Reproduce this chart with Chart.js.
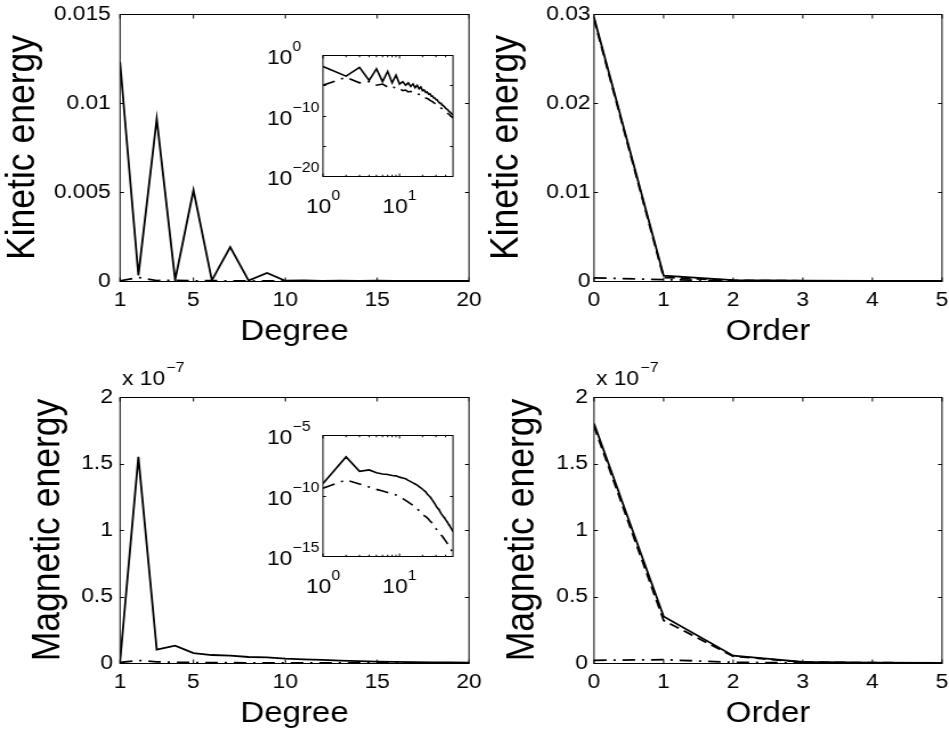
<!DOCTYPE html>
<html><head><meta charset="utf-8">
<script src="https://cdn.jsdelivr.net/npm/chart.js@4.4.0/dist/chart.umd.min.js"></script>
<style>
html,body{margin:0;padding:0;background:#fff;width:949px;height:741px;overflow:hidden;position:relative}
canvas{position:absolute}
</style></head><body>
<canvas id="tr"></canvas><canvas id="br"></canvas><canvas id="tl"></canvas><canvas id="bl"></canvas>
<canvas id="ti"></canvas><canvas id="bi"></canvas>
<script>
// ---------------- data ----------------
const degrees = [1,2,3,4,5,6,7,8,9,10,11,12,13,14,15,16,17,18,19,20,21,22,23,24,25,26,27,28,29,30,31,32,33,34,35,36,37,38,39,40,41,42,43,44,45,46,47,48,49,50];
const orders = [0,1,2,3,4,5];

const kinDegSolid = [1.23e-2,3.2e-4,9.1e-3,6.3e-5,5.1e-3,4.0e-5,1.9e-3,2.5e-5,4.5e-4,1.6e-5,
  4.0e-5,1.0e-5,2.5e-5,6.3e-6,1.6e-5,4.0e-6,1.0e-5,2.5e-6,5.0e-6,1.3e-6,
  1.6e-6,6.3e-7,7.9e-7,3.2e-7,4.0e-7,1.6e-7,1.6e-7,7.9e-8,7.9e-8,4.0e-8,
  4.0e-8,2.0e-8,2.0e-8,1.0e-8,1.0e-8,5.0e-9,5.0e-9,3.2e-9,2.5e-9,1.6e-9,
  1.3e-9,1.0e-9,7.9e-10,5.0e-10,4.0e-10,3.2e-10,2.5e-10,2.0e-10,1.6e-10,1.3e-10];
const kinDegDashDot = [1.0e-5,2.0e-4,2.5e-5,4.0e-5,1.0e-5,1.6e-5,5.0e-6,7.9e-6,2.5e-6,3.2e-6,
  1.3e-6,1.6e-6,7.9e-7,1.0e-6,5.0e-7,5.0e-7,3.2e-7,3.2e-7,1.6e-7,1.6e-7,
  1.0e-7,7.9e-8,6.3e-8,5.0e-8,3.2e-8,2.5e-8,2.0e-8,1.3e-8,1.0e-8,7.9e-9,
  5.0e-9,4.0e-9,3.2e-9,2.5e-9,1.6e-9,1.3e-9,1.0e-9,7.9e-10,6.3e-10,5.0e-10,
  3.2e-10,2.5e-10,2.0e-10,1.6e-10,1.3e-10,1.0e-10,7.9e-11,6.3e-11,5.0e-11,4.0e-11];
const magDegSolid = [1.0e-9,1.55e-7,1.0e-8,1.3e-8,7.5e-9,6.0e-9,5.5e-9,4.5e-9,4.2e-9,3.3e-9,
  2.8e-9,2.4e-9,1.8e-9,1.4e-9,1.1e-9,8.9e-10,7.1e-10,5.4e-10,4.2e-10,3.3e-10,
  2.5e-10,2.0e-10,1.3e-10,1.0e-10,7.9e-11,5.6e-11,4.0e-11,2.8e-11,2.0e-11,1.4e-11,
  1.0e-11,7.9e-12,6.3e-12,4.5e-12,3.2e-12,2.5e-12,2.0e-12,1.6e-12,1.3e-12,1.0e-12,
  7.9e-13,6.3e-13,5.0e-13,4.0e-13,3.2e-13,2.5e-13,2.0e-13,1.6e-13,1.3e-13,1.0e-13];
const magDegDashDot = [4.0e-10,1.9e-9,8.9e-10,5.0e-10,3.2e-10,2.4e-10,1.8e-10,1.4e-10,1.1e-10,7.9e-11,
  5.6e-11,4.0e-11,2.8e-11,2.0e-11,1.6e-11,1.1e-11,7.9e-12,5.6e-12,4.0e-12,2.8e-12,
  2.2e-12,1.8e-12,1.4e-12,1.1e-12,7.9e-13,6.3e-13,5.0e-13,3.5e-13,2.5e-13,1.8e-13,
  1.4e-13,1.1e-13,8.9e-14,7.1e-14,5.6e-14,4.5e-14,3.5e-14,2.8e-14,2.2e-14,1.8e-14,
  1.4e-14,1.1e-14,8.9e-15,7.1e-15,5.6e-15,4.5e-15,3.5e-15,2.8e-15,2.2e-15,1.8e-15];

const kinOrdSolid   = [2.96e-2,6.0e-4,1.0e-4,3.0e-5,1.0e-5,5.0e-6];
const kinOrdDashed  = [2.94e-2,4.0e-4,6.0e-5,2.0e-5,8.0e-6,4.0e-6];
const kinOrdDashDot = [3.5e-4,1.5e-4,2.0e-5,5.0e-6,2.0e-6,1.0e-6];
const magOrdSolid   = [1.80e-7,3.5e-8,5.5e-9,8.0e-10,2.0e-10,1.0e-10];
const magOrdDashed  = [1.78e-7,3.2e-8,5.0e-9,7.0e-10,2.0e-10,1.0e-10];
const magOrdDashDot = [2.0e-9,2.5e-9,5.0e-10,1.0e-10,5.0e-11,2.0e-11];

// ticks
const degreeTicks = [1,5,10,15,20];
const degreeTickLabels = ['1','5','10','15','20'];
const orderTicks = [0,1,2,3,4,5];
const orderTickLabels = ['0','1','2','3','4','5'];
const kinDegYTicks = [0,0.005,0.01,0.015];
const kinDegYLabels = ['0','0.005','0.01','0.015'];
const kinOrdYTicks = [0,0.01,0.02,0.03];
const kinOrdYLabels = ['0','0.01','0.02','0.03'];
const magYTicks = [0,0.5e-7,1e-7,1.5e-7,2e-7];
const magYLabels = ['0','0.5','1','1.5','2'];
const insetXTicks = [1,10];
const insetXExp = ['0','1'];
const insetXMinor = [2,3,4,5,6,7,8,9,20,30,40];
const kinInsetYTicks = [1e-20,1e-15,1e-10,1e-5,1];
const kinInsetYLabelVals = [1e-20,1e-10,1];
const kinInsetYExp = ['\u221220','\u221210','0'];
const magInsetYTicks = [1e-15,1e-10,1e-5];
const magInsetYLabelVals = [1e-15,1e-10,1e-5];
const magInsetYExp = ['\u221215','\u221210','\u22125'];

// ---------------- drawing ----------------
const SX = 1.14;
const FONT = '"Liberation Sans", Arial, Helvetica, sans-serif';
const SOLID = [], DASHED = [9,5], DASHDOT = [11,6,2,6];

function ds(xs, ys, dash, w) {
  return { data: ys.map((v,i)=>({x:xs[i], y:v})), borderColor:'#000', borderWidth: w || 1.8,
    borderDash: dash, pointRadius:0, tension:0, fill:false };
}

function crisp(v){ return Math.round(v) + 0.5; }

function framePlugin(o) {
  return {
    id: 'frame',
    beforeDatasetsDraw(chart) {
      if (!o.white) return;
      const a = chart.chartArea, ctx = chart.ctx;
      ctx.save(); ctx.fillStyle = '#fff';
      ctx.fillRect(a.left, a.top, a.right - a.left, a.bottom - a.top); ctx.restore();
    },
    afterDraw(chart) {
      const ctx = chart.ctx, a = chart.chartArea, xs = chart.scales.x, ys = chart.scales.y;
      const top = crisp(a.top), bot = crisp(a.bottom);
      ctx.save();
      ctx.strokeStyle = '#000'; ctx.lineWidth = 1;
      ctx.beginPath();
      const tv = o.tick, th = o.tick / o.sx;
      for (const t of xs.ticks) {
        const p = xs.getPixelForValue(t.value);
        ctx.moveTo(p, bot); ctx.lineTo(p, bot - tv);
        ctx.moveTo(p, top); ctx.lineTo(p, top + tv);
      }
      (o.minorX || []).forEach(v => {
        const p = xs.getPixelForValue(v);
        ctx.moveTo(p, bot); ctx.lineTo(p, bot - tv*0.6);
        ctx.moveTo(p, top); ctx.lineTo(p, top + tv*0.6);
      });
      for (const t of ys.ticks) {
        const p = crisp(ys.getPixelForValue(t.value));
        ctx.moveTo(a.left, p); ctx.lineTo(a.left + th, p);
        ctx.moveTo(a.right, p); ctx.lineTo(a.right - th, p);
      }
      ctx.stroke();
      ctx.strokeRect(a.left, top, a.right - a.left, bot - top);
      ctx.restore();
      if (o.extra) o.extra(chart);
    }
  };
}

function expLabel(sx) {
  return chart => {
    const ctx = chart.ctx, a = chart.chartArea;
    ctx.save(); ctx.fillStyle = '#000'; ctx.textAlign = 'left'; ctx.textBaseline = 'alphabetic';
    ctx.font = '20px ' + FONT;
    const x0 = a.left + 2 / sx, base = a.top - 12;
    ctx.fillText('x 10', x0, base);
    const w = ctx.measureText('x 10').width;
    ctx.font = '14px ' + FONT;
    ctx.fillText('\u22127', x0 + w + 1, base - 13);
    ctx.restore();
  };
}

function logLabels(cfg) {
  return chart => {
    const ctx = chart.ctx, a = chart.chartArea, xs = chart.scales.x, ys = chart.scales.y;
    ctx.save(); ctx.fillStyle = '#000'; ctx.textAlign = 'left'; ctx.textBaseline = 'alphabetic';
    insetXTicks.forEach((v, i) => {
      const p = xs.getPixelForValue(v);
      ctx.font = '20px ' + FONT; const w1 = ctx.measureText('10').width;
      ctx.font = '14px ' + FONT; const w2 = ctx.measureText(insetXExp[i]).width;
      const x0 = p - (w1 + w2) / 2, base = a.bottom + 37;
      ctx.font = '20px ' + FONT; ctx.fillText('10', x0, base);
      ctx.font = '14px ' + FONT; ctx.fillText(insetXExp[i], x0 + w1, base - 13);
    });
    cfg.yVals.forEach((v, i) => {
      const p = ys.getPixelForValue(v);
      ctx.font = '20px ' + FONT; const w1 = ctx.measureText('10').width;
      ctx.fillText('10', cfg.yLeft, p + 9);
      ctx.font = '14px ' + FONT; ctx.fillText(cfg.yExp[i], cfg.yLeft + w1, p - 4);
    });
    ctx.restore();
  };
}

function panel(id, css, area, cfg) {
  const cv = document.getElementById(id);
  const W = Math.round(css.w / SX);
  const sx = css.w / W;
  cv.width = W; cv.height = css.h;
  cv.style.left = css.left + 'px'; cv.style.top = css.top + 'px';
  cv.style.width = css.w + 'px'; cv.style.height = css.h + 'px';
  const li = area.l / sx, ri = area.r / sx, xH = css.h - area.b;
  const tickFont = {family: FONT, size: 20};
  const xScale = {
    type: cfg.log ? 'logarithmic' : 'linear', min: cfg.xMin, max: cfg.xMax,
    border: {display: false}, grid: {display: false, drawTicks: false},
    afterBuildTicks: s => { s.ticks = cfg.xTicks.map(v => ({value: v})); },
    ticks: {display: !cfg.log, color: '#000', font: tickFont, padding: 7, maxRotation: 0, minRotation: 0,
      autoSkip: false, callback: (v, i) => cfg.xLabels ? cfg.xLabels[i] : ''},
    title: {display: !!cfg.xTitle, text: cfg.xTitle || '', color: '#000',
      font: {family: FONT, size: 29, lineHeight: 1}, padding: {top: 0, bottom: cfg.xtPad || 0}},
    afterFit: s => { s.height = xH; s.paddingLeft = 0; s.paddingRight = 0; }
  };
  const yScale = {
    type: cfg.log ? 'logarithmic' : 'linear', min: cfg.yMin, max: cfg.yMax,
    border: {display: false}, grid: {display: false, drawTicks: false},
    afterBuildTicks: s => { s.ticks = cfg.yTicks.map(v => ({value: v})); },
    ticks: {display: !cfg.log, color: '#000', font: tickFont, padding: cfg.yPad || 8, autoSkip: false,
      callback: (v, i) => cfg.yLabels ? cfg.yLabels[i] : ''},
    title: {display: !!cfg.yTitle, text: cfg.yTitle || '', color: '#000',
      font: {family: FONT, size: 35.5, lineHeight: 1}, padding: {top: cfg.ytPad || 0, bottom: 0}},
    afterFit: s => { s.width = li; s.paddingTop = 0; s.paddingBottom = 0; }
  };
  return new Chart(cv, {
    type: 'line',
    data: {datasets: cfg.datasets},
    options: {
      responsive: false, animation: false, devicePixelRatio: 1, events: [],
      layout: {padding: {left: 0, top: area.t, right: W - ri, bottom: 0}},
      plugins: {legend: {display: false}, tooltip: {enabled: false}},
      scales: {x: xScale, y: yScale}
    },
    plugins: [framePlugin({tick: cfg.tick || 4, sx: sx, white: cfg.log, minorX: cfg.minorX,
      extra: cfg.extra ? cfg.extra(sx) : null})]
  });
}

// top-left: kinetic vs degree
panel('tl', {left:0, top:0, w:496, h:350}, {l:120, r:469, t:14, b:281}, {
  xMin:1, xMax:20, xTicks: degreeTicks, xLabels: degreeTickLabels, xTitle:'Degree', xtPad: 3.9,
  yMin:0, yMax:0.015, yTicks: kinDegYTicks, yLabels: kinDegYLabels, yTitle:'Kinetic energy', ytPad: 2, yPad: 8,
  datasets: [ds(degrees, kinDegSolid, SOLID), ds(degrees, kinDegDashDot, DASHDOT)]
});
// top-right: kinetic vs order
panel('tr', {left:480, top:0, w:469, h:350}, {l:114, r:462, t:14, b:281}, {
  xMin:0, xMax:5, xTicks: orderTicks, xLabels: orderTickLabels, xTitle:'Order', xtPad: 3.9,
  yMin:0, yMax:0.03, yTicks: kinOrdYTicks, yLabels: kinOrdYLabels, yTitle:'Kinetic energy', ytPad: 5, yPad: 3,
  datasets: [ds(orders, kinOrdSolid, SOLID), ds(orders, kinOrdDashed, DASHED), ds(orders, kinOrdDashDot, DASHDOT)]
});
// bottom-left: magnetic vs degree
panel('bl', {left:0, top:360, w:496, h:381}, {l:120, r:469, t:37, b:303}, {
  xMin:1, xMax:20, xTicks: degreeTicks, xLabels: degreeTickLabels, xTitle:'Degree', xtPad: 12.9,
  yMin:0, yMax:2e-7, yTicks: magYTicks, yLabels: magYLabels, yTitle:'Magnetic energy', ytPad: 24, yPad: 6.2,
  datasets: [ds(degrees, magDegSolid, SOLID), ds(degrees, magDegDashDot, DASHDOT)],
  extra: expLabel
});
// bottom-right: magnetic vs order
panel('br', {left:480, top:360, w:469, h:381}, {l:114, r:462, t:37, b:303}, {
  xMin:0, xMax:5, xTicks: orderTicks, xLabels: orderTickLabels, xTitle:'Order', xtPad: 12.9,
  yMin:0, yMax:2e-7, yTicks: magYTicks, yLabels: magYLabels, yTitle:'Magnetic energy', ytPad: 19.5, yPad: 5.3,
  datasets: [ds(orders, magOrdSolid, SOLID), ds(orders, magOrdDashed, DASHED), ds(orders, magOrdDashDot, DASHDOT)],
  extra: expLabel
});
// insets
panel('ti', {left:240, top:30, w:230, h:200}, {l:83, r:213, t:25, b:146}, {
  log: true, tick: 3, minorX: insetXMinor,
  xMin:1, xMax:50, xTicks: insetXTicks,
  yMin:1e-20, yMax:1, yTicks: kinInsetYTicks,
  datasets: [ds(degrees, kinDegSolid, SOLID, 1.6), ds(degrees, kinDegDashDot, DASHDOT, 1.6)],
  extra: sx => logLabels({yVals: kinInsetYLabelVals, yExp: kinInsetYExp, yLeft: 27 / sx})
});
panel('bi', {left:240, top:410, w:230, h:200}, {l:83, r:213, t:25, b:146}, {
  log: true, tick: 3, minorX: insetXMinor,
  xMin:1, xMax:50, xTicks: insetXTicks,
  yMin:1e-15, yMax:1e-5, yTicks: magInsetYTicks,
  datasets: [ds(degrees, magDegSolid, SOLID, 1.6), ds(degrees, magDegDashDot, DASHDOT, 1.6)],
  extra: sx => logLabels({yVals: magInsetYLabelVals, yExp: magInsetYExp, yLeft: 27 / sx})
});
</script>
</body></html>
